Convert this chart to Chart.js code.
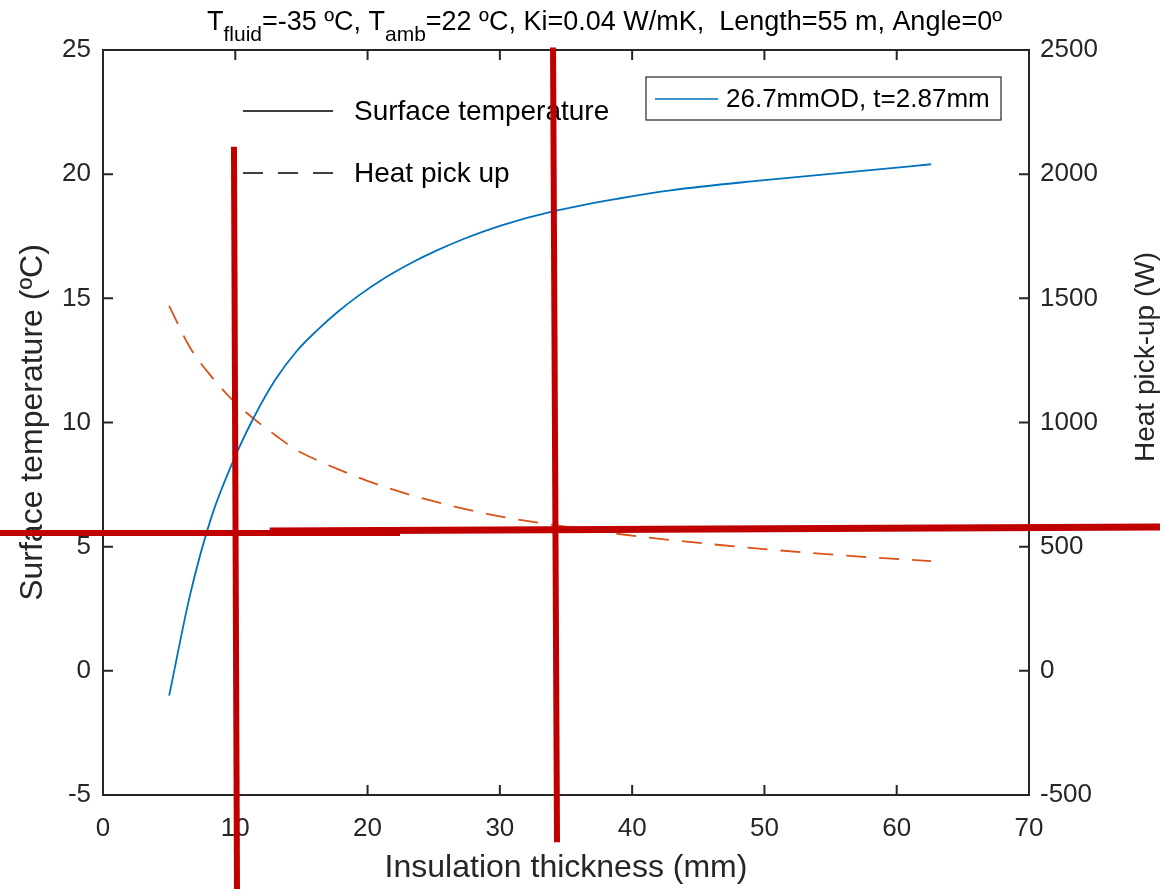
<!DOCTYPE html>
<html>

<head>
    <meta charset="utf-8">
    <script src="https://cdn.jsdelivr.net/npm/chart.js@4.4.1/dist/chart.umd.min.js"></script>
    <style>
        body { margin: 0; background: #fff; }
    </style>
</head>

<body>
    <canvas id="myChart" width="1164" height="889"></canvas>
</body>

<script>

    // insulation thickness (mm) where the curves were read
    const thickness = [5.0, 6.6, 8.2, 9.8, 11.4, 13.0, 14.6, 16.2, 17.8, 19.4, 21.0, 23.4, 25.2, 27.4, 30.2, 34.0, 39.0, 42.9, 49.6, 57.2, 62.6]
    // surface temperature (ºC), left axis
    const surfaceTemp = [-1.0, 3.1, 6.2, 8.4, 10.2, 11.7, 12.85, 13.72, 14.48, 15.14, 15.72, 16.45, 16.92, 17.42, 17.95, 18.5, 19.02, 19.35, 19.74, 20.12, 20.4]
    // heat pick-up (W), right axis
    const heatPickUp = [1470, 1300, 1185, 1090, 1015, 950, 890, 848, 811, 777, 746, 706, 680, 651, 620, 588, 551, 527, 492, 460, 442]

    // hand drawn red marks (x in mm, y in ºC)
    const markA_x = [9.9, 10.13]
    const markA_y = [21.1, -8.8]
    const markB_x = [34.02, 34.32]
    const markB_y = [25.1, -6.9]
    const markC_x = [-7.8, 22.45]
    const markC_y = [5.55, 5.55]
    const markD_x = [12.6, 79.9]
    const markD_y = [5.63, 5.79]

    const pipeLabel = '26.7mmOD, t=2.87mm'
    const styleLabels = ['Surface temperature', 'Heat pick up']
    const titleParts = [['T', 0], ['fluid', 1], ['=-35 ºC, T', 0], ['amb', 1], ['=22 ºC, Ki=0.04 W/mK,  Length=55 m, Angle=0º', 0]]

    const axisColor = '#262626'
    const font = 'Liberation Sans, Arial, sans-serif'

    const pts = (xs, ys) => xs.map((x, i) => ({ x: x, y: ys[i] }))

    const redMark = (xs, ys, w) => ({
        data: pts(xs, ys),
        borderColor: '#c00000',
        borderWidth: w,
        borderCapStyle: 'butt',
        pointRadius: 0,
        clip: false,
        order: 0,
        yAxisID: 'y'
    })

    // box, inward ticks, legends and the subscripted title
    const matlabLook = {
        id: 'matlabLook',
        beforeDatasetsDraw(chart) {
            const { ctx, chartArea: a, scales } = chart
            const TL = 10
            ctx.save()
            ctx.strokeStyle = axisColor
            ctx.lineWidth = 2
            ctx.strokeRect(a.left, a.top, a.right - a.left, a.bottom - a.top)
            ctx.beginPath()
            scales.x.ticks.forEach(t => {
                const p = scales.x.getPixelForValue(t.value)
                ctx.moveTo(p, a.bottom); ctx.lineTo(p, a.bottom - TL)
                ctx.moveTo(p, a.top); ctx.lineTo(p, a.top + TL)
            })
            scales.y.ticks.forEach(t => {
                const p = scales.y.getPixelForValue(t.value)
                ctx.moveTo(a.left, p); ctx.lineTo(a.left + TL, p)
            })
            scales.y1.ticks.forEach(t => {
                const p = scales.y1.getPixelForValue(t.value)
                ctx.moveTo(a.right, p); ctx.lineTo(a.right - TL, p)
            })
            ctx.stroke()

            // legend without box: line styles
            ctx.font = '28px ' + font
            ctx.textBaseline = 'middle'
            ctx.fillStyle = '#000'
            ctx.strokeStyle = '#000'
            ctx.lineWidth = 1.5
            styleLabels.forEach((lab, i) => {
                const y = 111 + i * 62
                ctx.setLineDash(i === 0 ? [] : [20, 15])
                ctx.beginPath(); ctx.moveTo(243, y); ctx.lineTo(333, y); ctx.stroke()
                ctx.fillText(lab, 354, y + 1)
            })
            ctx.setLineDash([])

            // boxed legend
            ctx.fillStyle = '#fff'
            ctx.fillRect(646, 77, 355, 43)
            ctx.strokeStyle = axisColor
            ctx.lineWidth = 1.2
            ctx.strokeRect(646, 77, 355, 43)
            ctx.strokeStyle = '#0072bd'
            ctx.lineWidth = 1.5
            ctx.beginPath(); ctx.moveTo(655, 99); ctx.lineTo(718, 99); ctx.stroke()
            ctx.fillStyle = '#000'
            ctx.font = '26px ' + font
            ctx.fillText(pipeLabel, 726, 100)

            // right axis title
            ctx.save()
            ctx.translate(1146, 357)
            ctx.rotate(-Math.PI / 2)
            ctx.textAlign = 'center'
            ctx.font = '28px ' + font
            ctx.fillStyle = axisColor
            ctx.fillText('Heat pick-up (W)', 0, 0)
            ctx.restore()
            ctx.restore()
        },
        afterDraw(chart) {
            const { ctx } = chart
            ctx.save()
            ctx.fillStyle = '#000'
            ctx.textBaseline = 'alphabetic'
            const big = '27px ' + font, small = '21px ' + font
            let w = 0
            titleParts.forEach(([s, sub]) => { ctx.font = sub ? small : big; w += ctx.measureText(s).width })
            const sx = 795 / w
            ctx.translate(207, 0)
            ctx.scale(sx, 1)
            let x = 0
            titleParts.forEach(([s, sub]) => {
                ctx.font = sub ? small : big
                ctx.fillText(s, x, sub ? 41 : 30)
                x += ctx.measureText(s).width
            })
            ctx.restore()
        }
    }

    const data = {
        datasets: [
            redMark(markA_x, markA_y, 6),
            redMark(markB_x, markB_y, 6),
            redMark(markC_x, markC_y, 6),
            redMark(markD_x, markD_y, 7),
            {
                label: pipeLabel,
                data: pts(thickness, surfaceTemp),
                borderColor: '#0072bd',
                borderWidth: 1.8,
                pointRadius: 0,
                cubicInterpolationMode: 'monotone',
                order: 1,
                yAxisID: 'y'
            },
            {
                label: 'Heat pick up',
                data: pts(thickness, heatPickUp),
                borderColor: '#d95319',
                borderWidth: 1.8,
                borderDash: [20, 13],
                pointRadius: 0,
                cubicInterpolationMode: 'monotone',
                order: 1,
                yAxisID: 'y1'
            }
        ]
    }

    const tickFont = { family: font, size: 26 }
    const plain = v => String(v)

    const config = {
        type: 'line',
        data: data,
        options: {
            responsive: false,
            animation: false,
            layout: { padding: { top: 50 } },
            plugins: {
                legend: { display: false },
                tooltip: { enabled: false }
            },
            scales: {
                x: {
                    type: 'linear',
                    min: 0, max: 70,
                    ticks: { stepSize: 10, color: axisColor, font: tickFont, padding: 18, maxRotation: 0, callback: plain },
                    grid: { display: false, drawTicks: false },
                    border: { display: false },
                    title: { display: true, text: 'Insulation thickness (mm)', color: axisColor, font: { family: font, size: 32 }, padding: { bottom: 2 } },
                    afterFit: s => { s.height = 94 }
                },
                y: {
                    position: 'left',
                    min: -5, max: 25,
                    ticks: { stepSize: 5, color: axisColor, font: tickFont, padding: 12, callback: plain },
                    grid: { display: false, drawTicks: false },
                    border: { display: false },
                    title: { display: true, text: 'Surface temperature (ºC)', color: axisColor, font: { family: font, size: 32 }, padding: { top: 14 } },
                    afterFit: s => { s.width = 103 }
                },
                y1: {
                    position: 'right',
                    min: -500, max: 2500,
                    ticks: { stepSize: 500, color: axisColor, font: tickFont, padding: 11, callback: plain },
                    grid: { display: false, drawTicks: false },
                    border: { display: false },
                    afterFit: s => { s.width = 135 }
                }
            }
        },
        plugins: [matlabLook]
    }

    const myChart = new Chart(document.getElementById('myChart'), config)

</script>

</html>
